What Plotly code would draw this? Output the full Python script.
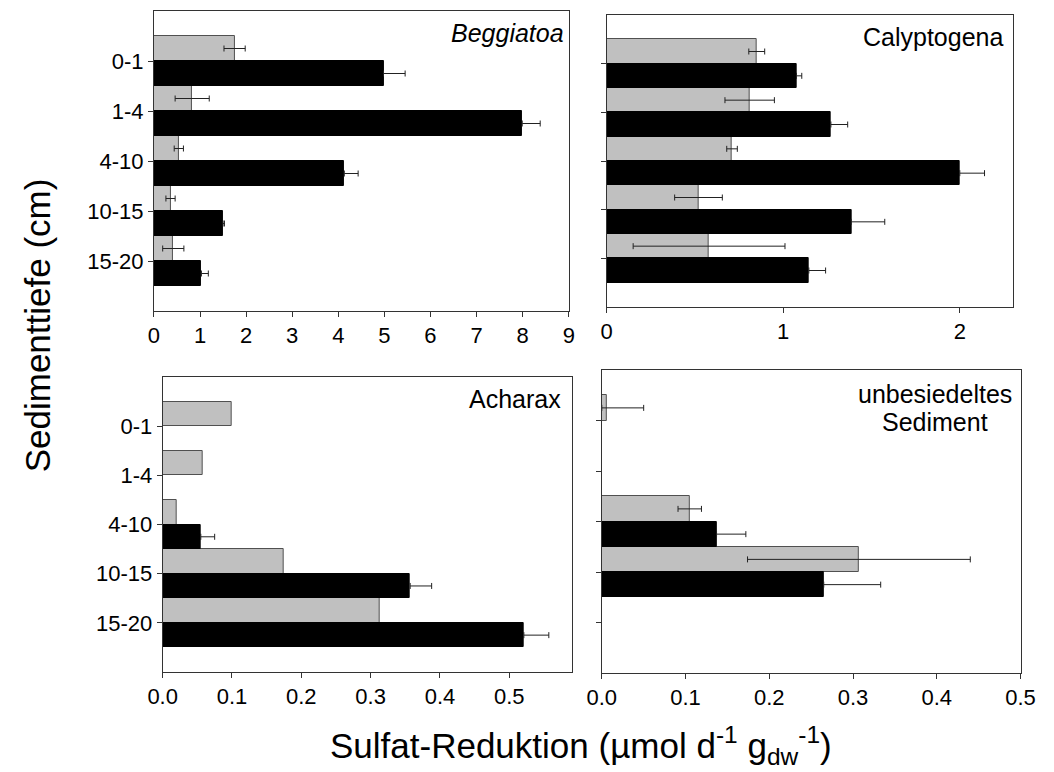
import plotly.graph_objects as go

depths = ["0-1", "1-4", "4-10", "10-15", "15-20"]

beg_gray = [1.75, 0.83, 0.54, 0.36, 0.42]
beg_gray_err = [0.23, 0.37, 0.10, 0.10, 0.23]
beg_black = [4.98, 7.99, 4.13, 1.50, 1.03]
beg_black_err = [0.47, 0.39, 0.30, 0.03, 0.15]

cal_gray = [0.85, 0.81, 0.71, 0.52, 0.58]
cal_gray_err = [0.045, 0.14, 0.03, 0.135, 0.43]
cal_black = [1.075, 1.27, 2.00, 1.385, 1.145]
cal_black_err = [0.03, 0.095, 0.14, 0.19, 0.095]

ach_gray = [0.100, 0.057, 0.020, 0.175, 0.313]
ach_black = [None, None, 0.055, 0.357, 0.521]
ach_black_err = [None, None, 0.020, 0.031, 0.036]

unb_gray = [0.006, None, 0.105, 0.307, None]
unb_gray_err = [0.044, None, 0.014, 0.133, None]
unb_black = [None, None, 0.137, 0.265, None]
unb_black_err = [None, None, 0.035, 0.068, None]

panels = [
    dict(title="Beggiatoa", gray=beg_gray, gerr=beg_gray_err, black=beg_black, berr=beg_black_err,
         xr=[0, 9], tv=list(range(10)), fmt="d", dom_x=[143, 570], dom_y=[11, 311], labels=True),
    dict(title="Calyptogena", gray=cal_gray, gerr=cal_gray_err, black=cal_black, berr=cal_black_err,
         xr=[0, 2.3], tv=[0, 1, 2], fmt="d", dom_x=[609, 1027], dom_y=[15, 307], labels=False),
    dict(title="Acharax", gray=ach_gray, gerr=None, black=ach_black, berr=ach_black_err,
         xr=[0, 0.59], tv=[0, 0.1, 0.2, 0.3, 0.4, 0.5], fmt=".1f", dom_x=[152, 573], dom_y=[377, 672], labels=True),
    dict(title="unbesiedeltes Sediment", gray=unb_gray, gerr=unb_gray_err, black=unb_black, berr=unb_black_err,
         xr=[0, 0.5], tv=[0, 0.1, 0.2, 0.3, 0.4, 0.5], fmt=".1f", dom_x=[604, 1035], dom_y=[370, 673], labels=False),
]

W, H = 1054, 772
FONT = "Arial, Liberation Sans, sans-serif"
ypos = list(range(len(depths)))

fig = go.Figure()


def err_dict(vals, errs, color, one_sided=False):
    if errs is None:
        return dict(visible=False)
    if one_sided:
        minus = [None if (e is None or v is None) else 0 for v, e in zip(vals, errs)]
    else:
        minus = [None if (e is None or v is None) else min(e, v) for v, e in zip(vals, errs)]
    return dict(type="data", array=errs, arrayminus=minus, symmetric=False,
                color=color, thickness=1, width=3, visible=True)


layout = {}
for i, p in enumerate(panels):
    n = "" if i == 0 else str(i + 1)
    xref = "x" + n
    yref = "y" + n
    fig.add_trace(go.Bar(x=p["gray"], y=ypos, orientation="h", xaxis=xref, yaxis=yref,
                         marker=dict(color="#c0c0c0", line=dict(color="#505050", width=1)),
                         error_x=err_dict(p["gray"], p["gerr"], "#222222"),
                         offsetgroup="g", showlegend=False))
    fig.add_trace(go.Bar(x=p["black"], y=ypos, orientation="h", xaxis=xref, yaxis=yref,
                         marker=dict(color="#000000", line=dict(color="#000000", width=1)),
                         error_x=err_dict(p["black"], p["berr"], "#222222", one_sided=True),
                         offsetgroup="b", showlegend=False))
    x0, x1 = p["dom_x"]
    y0, y1 = p["dom_y"]
    layout["xaxis" + n] = dict(
        domain=[x0 / W, x1 / W], anchor=yref, range=p["xr"], tickvals=p["tv"],
        tickformat=p["fmt"], ticks="outside", ticklen=5, tickwidth=1, tickcolor="#333333",
        showline=True, linecolor="#333333", linewidth=1, mirror=True, showgrid=False,
        zeroline=False, tickfont=dict(family=FONT, size=22, color="#000000"), fixedrange=True)
    ydict = dict(
        domain=[1 - y1 / H, 1 - y0 / H], anchor=xref, range=[5, -1], tickvals=ypos,
        showticklabels=p["labels"],
        ticks="outside", ticklen=5, tickwidth=1, tickcolor="#333333",
        showline=True, linecolor="#333333", linewidth=1, mirror=True, showgrid=False,
        zeroline=False, tickfont=dict(family=FONT, size=22, color="#000000"), fixedrange=True)
    if p["labels"]:
        ydict["ticktext"] = depths
    layout["yaxis" + n] = ydict

ann_font = dict(family=FONT, size=25, color="#000000")
annotations = [
    dict(text="<i>Beggiatoa</i>", x=567 / W, y=1 - 33 / H),
    dict(text="Calyptogena", x=1019 / W, y=1 - 37 / H),
    dict(text="Acharax", x=564 / W, y=1 - 399 / H),
]
anns = []
for a in annotations:
    anns.append(dict(text=a["text"], x=a["x"], y=a["y"], xref="paper", yref="paper",
                     xanchor="right", yanchor="middle", showarrow=False, font=ann_font))
anns.append(dict(text="unbesiedeltes", x=947 / W, y=1 - 394 / H, xref="paper", yref="paper",
                 xanchor="center", yanchor="middle", showarrow=False, font=ann_font))
anns.append(dict(text="Sediment", x=947 / W, y=1 - 422 / H, xref="paper", yref="paper",
                 xanchor="center", yanchor="middle", showarrow=False, font=ann_font))
anns.append(dict(text="Sulfat-Reduktion (µmol d<sup>-1</sup> g<sub>dw</sub><sup>-1</sup>)",
                 x=583 / W, y=1 - 745 / H, xref="paper", yref="paper", xanchor="center",
                 yanchor="middle", showarrow=False, font=dict(family=FONT, size=35, color="#000000")))
anns.append(dict(text="Sedimenttiefe (cm)", x=24 / W, y=1 - 325 / H, xref="paper", yref="paper",
                 xanchor="center", yanchor="middle", textangle=-90, showarrow=False,
                 font=dict(family=FONT, size=35, color="#000000")))

fig.update_layout(
    width=W, height=H, margin=dict(l=0, r=0, t=0, b=0),
    paper_bgcolor="white", plot_bgcolor="white",
    barmode="group", bargap=0, bargroupgap=0, showlegend=False,
    annotations=anns, **layout)

fig.write_html("out.html", config={"displayModeBar": False})
